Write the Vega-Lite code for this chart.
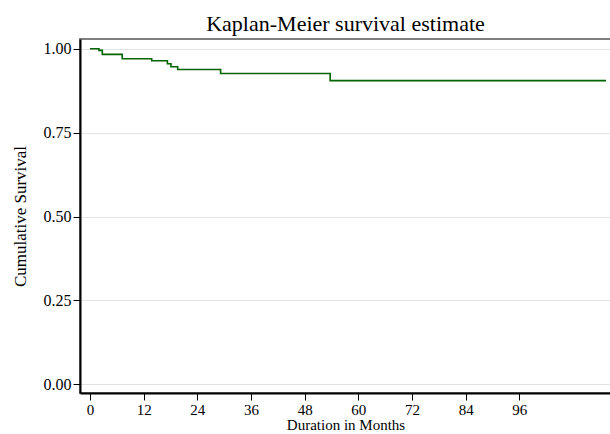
{
  "$schema": "https://vega.github.io/schema/vega-lite/v6.json",
  "width": 531,
  "height": 354,
  "autosize": {"type": "none"},
  "padding": {"left": 80, "top": 39, "right": 0, "bottom": 41},
  "background": "white",
  "title": {
    "text": "Kaplan-Meier survival estimate",
    "font": "Liberation Serif",
    "fontSize": 22,
    "fontWeight": "normal",
    "color": "black",
    "anchor": "middle",
    "frame": "group",
    "offset": 3
  },
  "config": {
    "view": {"stroke": "#7f7f7f", "strokeWidth": 2},
    "axis": {
      "labelFont": "Liberation Serif",
      "titleFont": "Liberation Serif",
      "labelFontSize": 16,
      "titleFontSize": 16,
      "titleFontWeight": "normal",
      "labelColor": "black",
      "titleColor": "black",
      "domainColor": "black",
      "domainWidth": 2,
      "tickColor": "black",
      "tickSize": 7,
      "tickWidth": 1,
      "labelPadding": 2
    }
  },
  "data": {
    "values": [
      {"t": 0, "s": 1.0},
      {"t": 2.0, "s": 0.995},
      {"t": 2.75, "s": 0.983},
      {"t": 7.2, "s": 0.970},
      {"t": 13.8, "s": 0.964},
      {"t": 17.3, "s": 0.955},
      {"t": 18.1, "s": 0.946},
      {"t": 19.6, "s": 0.938},
      {"t": 29.2, "s": 0.926},
      {"t": 53.7, "s": 0.905},
      {"t": 115.4, "s": 0.905}
    ]
  },
  "mark": {"type": "line", "interpolate": "step-after", "color": "#006400", "strokeWidth": 1.6},
  "encoding": {
    "x": {
      "field": "t",
      "type": "quantitative",
      "scale": {"domain": [-2.24, 116.5], "nice": false, "zero": false},
      "axis": {
        "title": "Duration in Months",
        "labelFontSize": 15,
        "titleFontSize": 15,
        "values": [0, 12, 24, 36, 48, 60, 72, 84, 96],
        "grid": false,
        "titlePadding": 0,
        "labelFlush": false
      }
    },
    "y": {
      "field": "s",
      "type": "quantitative",
      "scale": {"domain": [-0.0259, 1.0289], "nice": false, "zero": false},
      "axis": {
        "title": "Cumulative Survival",
        "titleFontSize": 17,
        "values": [0, 0.25, 0.5, 0.75, 1],
        "format": ".2f",
        "grid": true,
        "gridColor": "#e3e3e3",
        "gridWidth": 1,
        "titlePadding": 14,
        "labelFlush": false
      }
    }
  }
}
